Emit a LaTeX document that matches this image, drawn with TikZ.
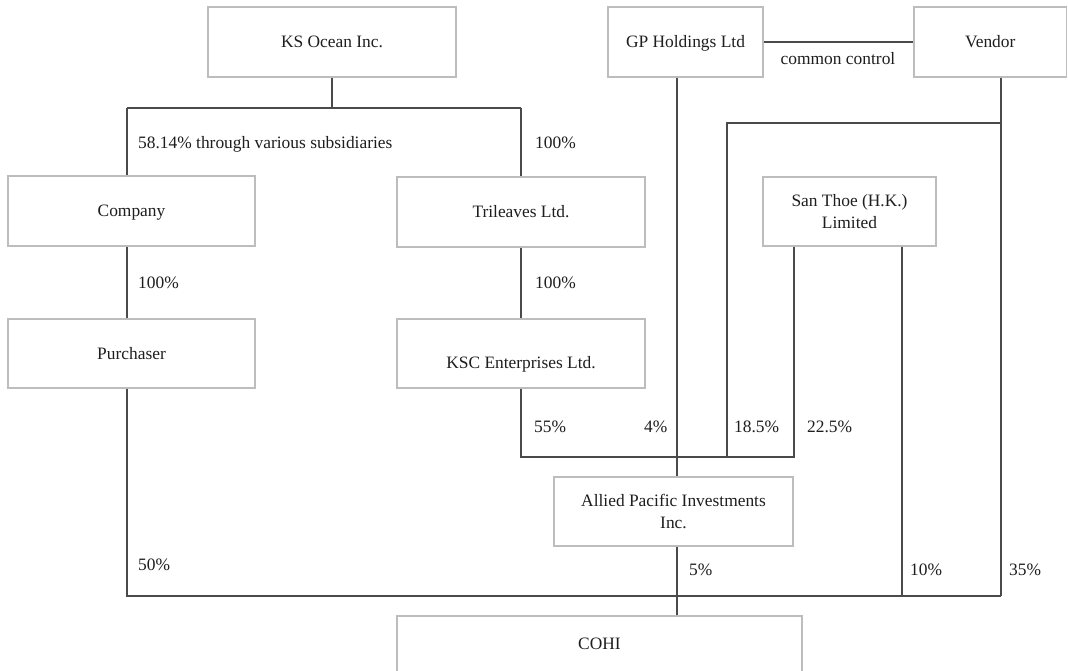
\documentclass[tikz,border=0pt]{standalone}
\usepackage{fontspec}
\setmainfont{Liberation Serif}
\definecolor{boxgray}{HTML}{BDBDBD}
\definecolor{linegray}{HTML}{4A4A4A}
\definecolor{txt}{HTML}{1E1E1E}
\begin{document}
\begin{tikzpicture}[x=1pt,y=-1pt,
  ent/.style={draw=boxgray,line width=1.4pt,fill=white,inner sep=0pt,
    font=\fontsize{17.4}{22.5}\selectfont,text=txt,align=center},
  one/.style={text height=11.5pt,text depth=0pt},
  conn/.style={draw=linegray,line width=1.6pt},
  pct/.style={anchor=base west,inner sep=0pt,font=\fontsize{17.4}{21}\selectfont,text=txt},
  inner/.style={inner sep=0pt,font=\fontsize{17.4}{22.5}\selectfont,text=txt,align=center,text height=11.5pt,text depth=0pt}]
\clip (0,0) rectangle (1068,671);
\fill[white] (0,0) rectangle (1068,671);

% entities
\node[ent,one,minimum width=248pt,minimum height=70pt] (ks) at (332,42) {KS Ocean Inc.};
\node[ent,one,minimum width=155pt,minimum height=70pt] (gp) at (685.5,42) {GP Holdings Ltd};
\node[ent,one,minimum width=152.5pt,minimum height=70pt] (vendor) at (990.25,42) {Vendor};
\node[ent,one,minimum width=247pt,minimum height=70pt] (company) at (131.5,211) {Company};
\node[ent,one,minimum width=248pt,minimum height=70pt] (tri) at (521,212) {Trileaves Ltd.};
\node[ent,minimum width=173pt,minimum height=69pt] (santhoe) at (849.5,211.5) {San Thoe (H.K.)\\Limited};
\node[ent,one,minimum width=247pt,minimum height=69pt] (purchaser) at (131.5,353.5) {Purchaser};
\node[ent,minimum width=248pt,minimum height=69pt] (ksc) at (521,353.5) {};
\node[inner] (ksctext) at (521,363) {KSC Enterprises Ltd.};
\node[ent,minimum width=239pt,minimum height=69pt] (allied) at (673.5,511.5) {Allied Pacific Investments\\Inc.};
\node[ent,minimum width=405pt,minimum height=74pt] (cohi) at (599.5,653) {};
\node[inner] (cohitext) at (599.5,644) {COHI};

% junction coordinates
\coordinate (kj) at (332,108);
\coordinate (kl) at (127,108);
\coordinate (kr) at (521,108);
\coordinate (j1) at (521,457);
\coordinate (j2) at (794,457);
\coordinate (v1) at (1001,123);
\coordinate (v2) at (1001,596);
\coordinate (v3) at (727,123);
\coordinate (v4) at (727,457);
\coordinate (g1) at (677,0);
\coordinate (p1) at (127,596);
\coordinate (s1) at (902,596);

% connectors
\draw[conn] (ks.south) -- (kj);
\draw[conn] (kl) -- (kr);
\draw[conn] (kl) -- (kl |- company.north);
\draw[conn] (kr) -- (tri.north);
\draw[conn] (company.south -| kl) -- (purchaser.north -| kl);
\draw[conn] (tri.south) -- (ksc.north);
\draw[conn] (ksc.south) -- (j1) -- (j2) -- (santhoe.south -| j2);
\draw[conn] (vendor.south -| v1) -- (v2);
\draw[conn] (v1) -- (v3) -- (v4);
\draw[conn] (gp.south -| g1) -- (allied.north -| g1);
\draw[conn] (allied.south -| g1) -- (cohi.north -| g1);
\draw[conn] (purchaser.south -| kl) -- (p1) -- (v2);
\draw[conn] (santhoe.south -| s1) -- (s1);
\draw[conn] (gp.east) -- (vendor.west);

% labels
\node[pct] (l1) at (138,149) {58.14\% through various subsidiaries};
\node[pct] (l2) at (535,149) {100\%};
\node[inner] (l3) at (838,59) {common control};
\node[pct] (l4) at (138,288) {100\%};
\node[pct] (l5) at (535,288) {100\%};
\node[pct] (l6) at (534,432) {55\%};
\node[pct] (l7) at (644,432) {4\%};
\node[pct] (l8) at (734,432) {18.5\%};
\node[pct] (l9) at (807,432) {22.5\%};
\node[pct] (l10) at (138,570) {50\%};
\node[pct] (l11) at (689,575) {5\%};
\node[pct] (l12) at (910,575) {10\%};
\node[pct] (l13) at (1009,575) {35\%};
\end{tikzpicture}
\end{document}
